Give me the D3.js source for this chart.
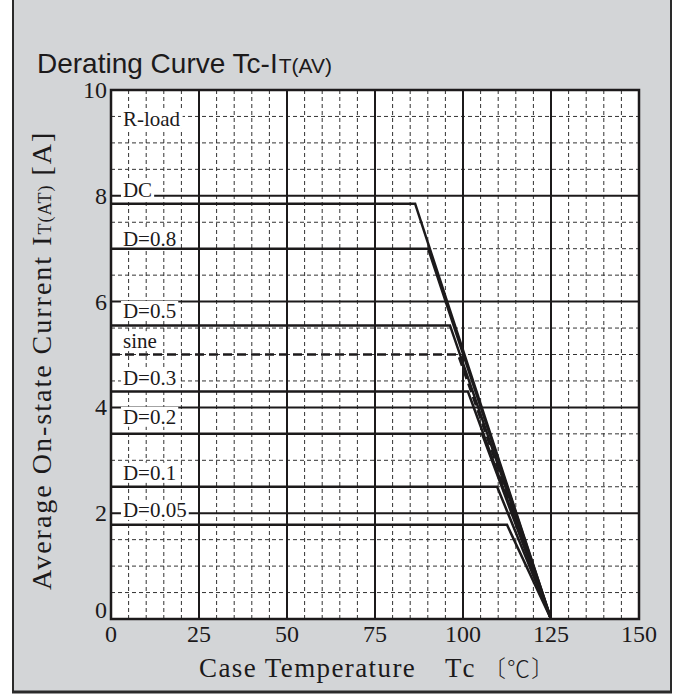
<!DOCTYPE html>
<html>
<head>
<meta charset="utf-8">
<script src="https://cdn.jsdelivr.net/npm/d3@7"></script>
<style>
  html, body { margin: 0; padding: 0; background: #ffffff; }
  svg { display: block; }
</style>
</head>
<body>
<svg id="chart" width="684" height="698"></svg>
<script>
// ---- data ----
const xTicks = [0, 25, 50, 75, 100, 125, 150];
const yTicks = [0, 2, 4, 6, 8, 10];
const xMinor = d3.range(0, 151, 5);
const yMinor = d3.range(0, 10.01, 0.5);
const seriesNames = ["DC", "D=0.8", "D=0.5", "sine", "D=0.3", "D=0.2", "D=0.1", "D=0.05"];
const seriesLevels = [7.85, 7.0, 5.55, 5.0, 4.3, 3.5, 2.5, 1.78];
const seriesKneeTc = [86.4, 90.1, 96.3, 98.6, 101.4, 105.4, 109.7, 112.5];
const seriesEndTc = 125;
const labelTexts = ["R-load", "DC", "D=0.8", "D=0.5", "sine", "D=0.3", "D=0.2", "D=0.1", "D=0.05"];
const labelLevels = [9.32, 7.98, 7.05, 5.69, 5.12, 4.42, 3.69, 2.63, 1.93];
const labelTc = 3.4;

// ---- layout ----
const svg = d3.select("#chart");
const L = 111, R = 639, T = 90, B = 619;
const x = d3.scaleLinear().domain([0, 150]).range([L, R]);
const y = d3.scaleLinear().domain([0, 10]).range([B, T]);
const ink = "#1c1a1b";
const serif = "'Liberation Serif', 'Times New Roman', serif";

// panel
svg.append("rect").attr("x", 13).attr("y", 0).attr("width", 658).attr("height", 691).attr("fill", "#d3d5d7");
svg.append("line").attr("x1", 13).attr("x2", 13).attr("y1", 0).attr("y2", 693).attr("stroke", "#2a2a2a").attr("stroke-width", 2);
svg.append("line").attr("x1", 671).attr("x2", 671).attr("y1", 0).attr("y2", 693).attr("stroke", "#2a2a2a").attr("stroke-width", 2);
svg.append("line").attr("x1", 12).attr("x2", 672).attr("y1", 692).attr("y2", 692).attr("stroke", "#2a2a2a").attr("stroke-width", 3);

// title
const title = svg.append("text").attr("x", 37).attr("y", 73)
  .attr("font-family", "'Liberation Sans', Arial, sans-serif").attr("fill", ink).attr("font-size", 28);
title.append("tspan").text("Derating Curve Tc-I");
title.append("tspan").attr("font-size", 21).attr("dx", 1).text("T(AV)");

// plot area
svg.append("rect").attr("x", L).attr("y", T).attr("width", R - L).attr("height", B - T).attr("fill", "#ffffff");

const grid = svg.append("g");
grid.selectAll("line.vx").data(xMinor.filter(v => v % 25 !== 0)).join("line")
  .attr("x1", d => x(d)).attr("x2", d => x(d)).attr("y1", T).attr("y2", B)
  .attr("stroke", "#333").attr("stroke-width", 1).attr("stroke-dasharray", "4,3");
grid.selectAll("line.hy").data(yMinor.filter(v => Math.abs(v % 2) > 0.01)).join("line")
  .attr("x1", L).attr("x2", R).attr("y1", d => y(d)).attr("y2", d => y(d))
  .attr("stroke", "#333").attr("stroke-width", 1).attr("stroke-dasharray", "4,3");
const gMaj = svg.append("g");
gMaj.selectAll("line.mx").data(xTicks).join("line")
  .attr("x1", d => x(d)).attr("x2", d => x(d)).attr("y1", T).attr("y2", B)
  .attr("stroke", ink).attr("stroke-width", 2);
gMaj.selectAll("line.my").data(yTicks).join("line")
  .attr("x1", L).attr("x2", R).attr("y1", d => y(d)).attr("y2", d => y(d))
  .attr("stroke", ink).attr("stroke-width", 2);

// label boxes + texts
const boxG = svg.append("g");
const textG = svg.append("g");

// series
const lineGen = d3.line().x(d => x(d[0])).y(d => y(d[1]));
const sG = svg.append("g");
seriesNames.forEach((name, i) => {
  const pts = [[0, seriesLevels[i]], [seriesKneeTc[i], seriesLevels[i]], [seriesEndTc, 0]];
  sG.append("path").attr("d", lineGen(pts)).attr("fill", "none")
    .attr("stroke", ink).attr("stroke-width", 2.5).attr("stroke-linejoin", "miter")
    .attr("stroke-dasharray", name === "sine" ? "9,5" : null);
});

const texts = textG.selectAll("text").data(labelTexts).join("text")
  .attr("x", x(labelTc)).attr("y", (d, i) => y(labelLevels[i]))
  .attr("font-family", serif).attr("font-size", 21).attr("fill", ink).text(d => d);
texts.each(function () {
  const b = this.getBBox();
  boxG.append("rect").attr("x", b.x - 2).attr("y", b.y + 2).attr("width", b.width + 4).attr("height", b.height - 4)
    .attr("fill", "#ffffff");
});

// border
svg.append("rect").attr("x", L).attr("y", T).attr("width", R - L).attr("height", B - T)
  .attr("fill", "none").attr("stroke", ink).attr("stroke-width", 2.5);

// axes labels
const axG = svg.append("g").attr("font-family", serif).attr("font-size", 24).attr("fill", ink);
axG.selectAll("text.xt").data(xTicks).join("text")
  .attr("x", d => x(d)).attr("y", 642).attr("text-anchor", "middle").text(d => d);
axG.selectAll("text.yt").data(yTicks).join("text")
  .attr("x", 107).attr("y", d => d === 0 ? y(d) - 1 : y(d) + 8).attr("text-anchor", "end").text(d => d);

// x title
const xt = svg.append("text").attr("y", 677).attr("font-family", serif).attr("font-size", 27).attr("fill", ink);
xt.append("tspan").attr("x", 199).attr("letter-spacing", 1.4).text("Case Temperature");
xt.append("tspan").attr("x", 445).attr("letter-spacing", 3).text("Tc");
xt.append("tspan").attr("x", 483).attr("font-family", "'Noto Sans CJK JP', serif").attr("font-weight", 300)
  .attr("font-size", 23).attr("letter-spacing", 1).text("〔℃〕");

// y title
const yt = svg.append("text").attr("transform", "translate(51,590) rotate(-90)")
  .attr("font-family", serif).attr("font-size", 28).attr("fill", ink).attr("letter-spacing", 2);
yt.append("tspan").text("Average On-state Current I");
yt.append("tspan").attr("font-size", 18).attr("letter-spacing", 1).text("T(AT)");
yt.append("tspan").text(" [A]");
</script>
</body>
</html>
